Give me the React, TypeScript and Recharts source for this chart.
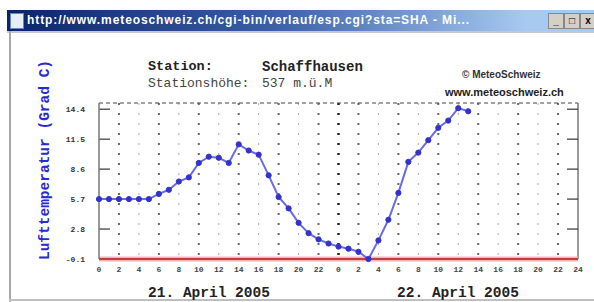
import React from 'react';
import { LineChart, Line, XAxis, YAxis, ReferenceLine } from 'recharts';

// hours since 21 April 2005 00:00
const hours = [0, 1, 2, 3, 4, 5, 6, 7, 8, 9, 10, 11, 12, 13, 14, 15, 16, 17, 18, 19, 20, 21, 22, 23, 24, 25, 26, 27, 28, 29, 30, 31, 32, 33, 34, 35, 36, 37];
// Lufttemperatur (Grad C)
const temps = [5.7, 5.7, 5.7, 5.7, 5.7, 5.7, 6.2, 6.6, 7.4, 7.8, 9.2, 9.8, 9.7, 9.2, 11.0, 10.4, 10.0, 8.0, 5.9, 4.8, 3.4, 2.4, 1.8, 1.4, 1.1, 0.9, 0.6, -0.1, 1.7, 3.7, 6.3, 9.3, 10.2, 11.4, 12.6, 13.3, 14.5, 14.2];

const xTicks = [0, 2, 4, 6, 8, 10, 12, 14, 16, 18, 20, 22, 24, 26, 28, 30, 32, 34, 36, 38, 40, 42, 44, 46, 48];
const xTickLabels = ['0', '2', '4', '6', '8', '10', '12', '14', '16', '18', '20', '22', '0', '2', '4', '6', '8', '10', '12', '14', '16', '18', '20', '22', '24'];
const yTicks = [-0.1, 2.8, 5.7, 8.6, 11.5, 14.4];
const yDomain = [-0.1, 15.0];
const dayLabels = ['21. April 2005', '22. April 2005'];

const data = hours.map((h, i) => ({ h, t: temps[i] }));

const mono = '"Liberation Mono", "DejaVu Sans Mono", monospace';
const sans = '"Liberation Sans", Arial, sans-serif';

export default function App() {
  return (
    <div style={{ position: 'fixed', left: 0, top: 0, width: 594, height: 302, background: '#fff', overflow: 'hidden' }}>
      {/* window title bar */}
      <div style={{ position: 'absolute', left: 7, top: 10, width: 590, height: 21, background: 'linear-gradient(to right, #0a246a 0%, #3a5ea8 45%, #a6caf0 88%)' }} />
      <div style={{ position: 'absolute', left: 10, top: 13, width: 12, height: 14, background: '#e8eef8', border: '1px solid #6a86c0' }} />
      <div style={{ position: 'absolute', left: 27, top: 13, fontFamily: sans, fontWeight: 'bold', fontSize: 12, color: '#fff', whiteSpace: 'nowrap', letterSpacing: 0.9 }}>
        http://www.meteoschweiz.ch/cgi-bin/verlauf/esp.cgi?sta=SHA - Mi...
      </div>
      {['_', '□', 'x'].map((c, i) => (
        <div key={i} style={{ position: 'absolute', left: 548 + i * 16, top: 13, width: 14, height: 14, background: '#d4d0c8', border: '1px solid #888', fontFamily: sans, fontSize: 10, fontWeight: 'bold', lineHeight: '13px', textAlign: 'center', color: '#000' }}>{c}</div>
      ))}
      {/* window frame */}
      <div style={{ position: 'absolute', left: 7, top: 31, width: 590, height: 2, background: '#c8c8c8' }} />
      <div style={{ position: 'absolute', left: 9, top: 31, width: 2, height: 271, background: '#a8a8a8' }} />
      <div style={{ position: 'absolute', left: 9, top: 299, width: 590, height: 2, background: '#c0c0c0' }} />

      {/* header */}
      <div style={{ position: 'absolute', left: 148, top: 59, fontFamily: mono, fontWeight: 'bold', fontSize: 13.5, color: '#222', whiteSpace: 'pre' }}>Station:</div>
      <div style={{ position: 'absolute', left: 262, top: 59, fontFamily: mono, fontWeight: 'bold', fontSize: 14, color: '#222', whiteSpace: 'pre' }}>Schaffhausen</div>
      <div style={{ position: 'absolute', left: 148, top: 76, fontFamily: mono, fontSize: 13, color: '#444', whiteSpace: 'pre' }}>Stationshöhe:</div>
      <div style={{ position: 'absolute', left: 262, top: 76, fontFamily: mono, fontSize: 13, color: '#444', whiteSpace: 'pre' }}>537 m.ü.M</div>
      <div style={{ position: 'absolute', left: 462, top: 69, fontFamily: sans, fontWeight: 'bold', fontSize: 10, color: '#333', whiteSpace: 'pre' }}>© MeteoSchweiz</div>
      <div style={{ position: 'absolute', left: 445, top: 86, fontFamily: sans, fontWeight: 'bold', fontSize: 11, color: '#222', whiteSpace: 'pre' }}>www.meteoschweiz.ch</div>

      {/* y label */}
      <div style={{ position: 'absolute', left: 45, top: 160, transform: 'translate(-50%, -50%) rotate(-90deg)', fontFamily: mono, fontWeight: 'bold', fontSize: 14.5, color: '#2a2ad0', whiteSpace: 'pre' }}>Lufttemperatur (Grad C)</div>

      {/* day labels */}
      <div style={{ position: 'absolute', left: 209, top: 293, transform: 'translate(-50%, -50%)', fontFamily: mono, fontWeight: 'bold', fontSize: 14.5, color: '#222', whiteSpace: 'pre' }}>{dayLabels[0]}</div>
      <div style={{ position: 'absolute', left: 458, top: 293, transform: 'translate(-50%, -50%)', fontFamily: mono, fontWeight: 'bold', fontSize: 14.5, color: '#222', whiteSpace: 'pre' }}>{dayLabels[1]}</div>

      <div style={{ position: 'absolute', left: 0, top: 0 }}>
        <LineChart width={594} height={302} data={data} margin={{ top: 103, right: 16, bottom: 0, left: 0 }}>
          <XAxis
            dataKey="h"
            type="number"
            domain={[0, 48]}
            ticks={xTicks}
            interval={0}
            height={43}
            axisLine={false}
            tickLine={false}
            tickSize={4}
            tickMargin={3}
            tickFormatter={(v: number) => xTickLabels[xTicks.indexOf(v)]}
            tick={{ fontFamily: mono, fontWeight: 'bold', fontSize: 8, fill: '#444' }}
          />
          <YAxis
            type="number"
            domain={yDomain}
            ticks={yTicks}
            interval={0}
            width={99}
            tickLine={false}
            tickSize={6}
            tickMargin={8}
            axisLine={{ stroke: '#777', strokeWidth: 1.5 }}
            tickFormatter={(v: number) => v.toFixed(1)}
            tick={{ fontFamily: mono, fontWeight: 'bold', fontSize: 8, fill: '#333' }}
          />
          {xTicks.slice(1, -1).map((h) => (
            <ReferenceLine
              key={'g' + h}
              x={h}
              stroke={h === 24 ? '#222' : h % 4 === 2 ? '#666' : '#aaa'}
              strokeWidth={h === 24 ? 2.5 : h % 4 === 2 ? 2 : 1}
              strokeDasharray="2 8"
              strokeDashoffset={-4}
            />
          ))}
          <ReferenceLine y={15.0} stroke="#444" strokeWidth={1} strokeDasharray="4 3" />
          <ReferenceLine x={48} stroke="#777" strokeWidth={1.5} />
          {yTicks.map((v) => (
            <ReferenceLine key={'l' + v} segment={[{ x: 0, y: v }, { x: 1.1, y: v }]} stroke="#333" strokeWidth={1.2} />
          ))}
          {yTicks.map((v) => (
            <ReferenceLine key={'r' + v} segment={[{ x: 46.9, y: v }, { x: 48, y: v }]} stroke="#333" strokeWidth={1.2} />
          ))}
          <ReferenceLine y={-0.1} stroke="#f2b4b4" strokeWidth={5} />
          <ReferenceLine y={-0.1} stroke="#c04040" strokeWidth={2} />
          <Line
            dataKey="t"
            type="linear"
            stroke="#6a6ae8"
            strokeWidth={2}
            dot={{ r: 2.6, fill: '#3333cc', stroke: '#3333cc', strokeWidth: 1 }}
            isAnimationActive={false}
          />
        </LineChart>
      </div>
    </div>
  );
}
